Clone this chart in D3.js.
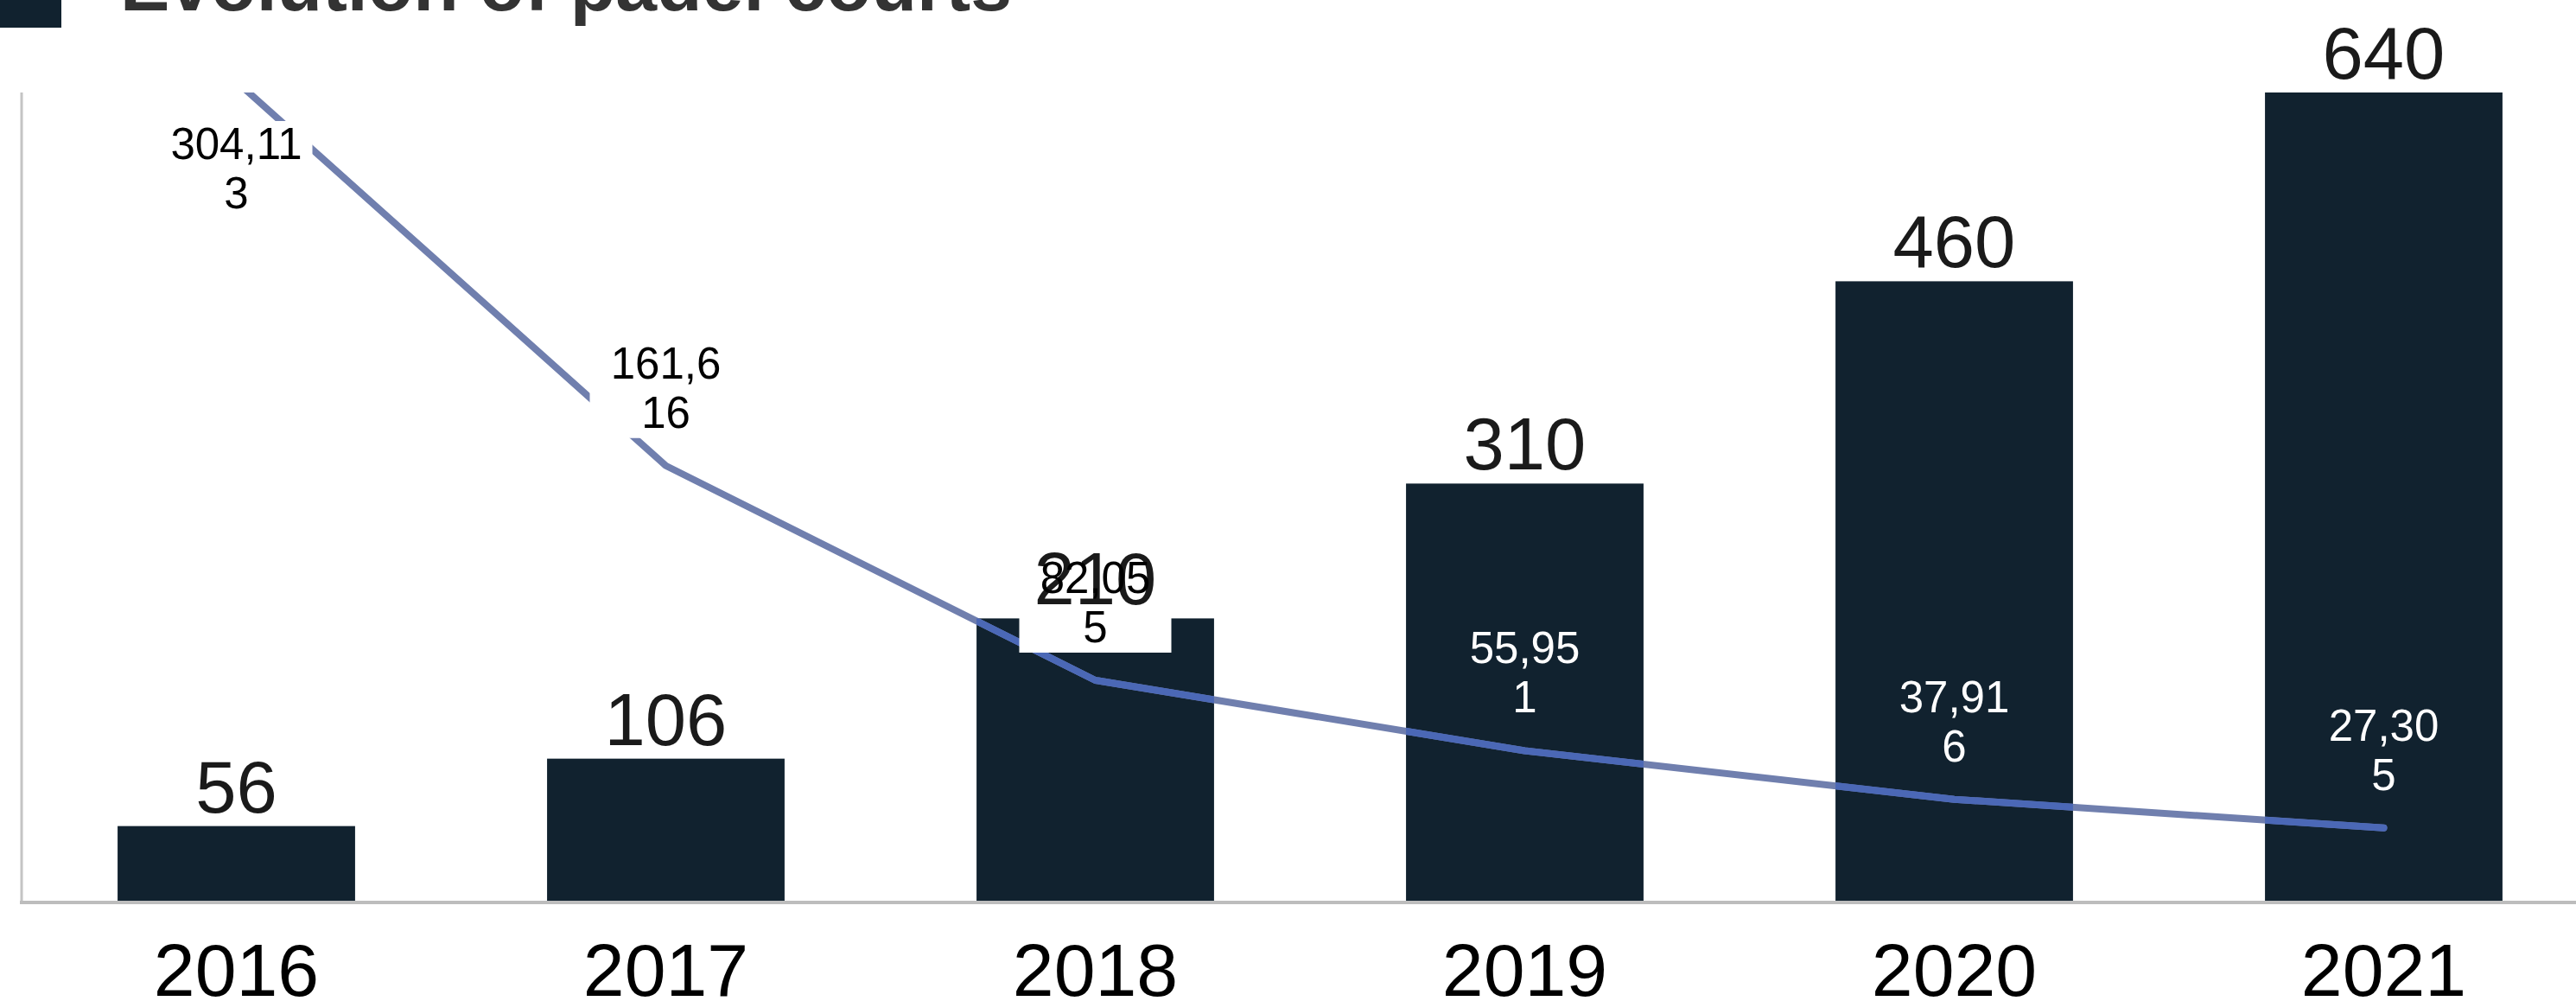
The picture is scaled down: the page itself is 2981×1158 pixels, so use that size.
<!DOCTYPE html>
<html>
<head>
<meta charset="utf-8">
<script src="https://cdn.jsdelivr.net/npm/d3@7"></script>
<style>
  html, body { margin: 0; padding: 0; background: #ffffff; }
  svg { display: block; }
  text { font-family: "Liberation Sans", Arial, Helvetica, sans-serif; }
</style>
</head>
<body>
<svg id="chart" width="2981" height="1158"></svg>
<script>
// Padel courts per year and inhabitants per court
const years = ["2016", "2017", "2018", "2019", "2020", "2021"];
const courts = [56, 106, 210, 310, 460, 640];
const inhabitantsPerCourt = [304.113, 161.616, 82.055, 55.951, 37.916, 27.305];
// where each inhabitants label wraps onto a second line
const labelWrapAt = [6, 5, 5, 5, 5, 5];

const W = 2981, H = 1158;
const plot = { left: 25, right: 3007, top: 107, bottom: 1043 };
const navy = "#11222f";
const font = "'Liberation Sans', Arial, Helvetica, sans-serif";

const svg = d3.select("#chart");

// Title block
svg.append("rect").attr("x", 0).attr("y", 0).attr("width", 71).attr("height", 32).attr("fill", navy);
svg.append("text")
  .attr("x", 139).attr("y", 12)
  .attr("font-size", 86).attr("font-weight", "bold").attr("fill", "#333333")
  .text("Evolution of padel courts");

// Scales: bars on the primary axis (0–600), line on the secondary axis (0–300)
const x = d3.scaleBand().domain(years).range([plot.left, plot.right])
  .paddingInner(0.447).paddingOuter(0.2235);
const y = d3.scaleLinear().domain([0, 600]).range([plot.bottom, plot.top]);
const y2 = d3.scaleLinear().domain([0, 300]).range([plot.bottom, plot.top]);

const defs = svg.append("defs");
defs.append("clipPath").attr("id", "plotClip")
  .append("rect").attr("x", 0).attr("y", plot.top).attr("width", W).attr("height", plot.bottom - plot.top + 2);

// Bars (clipped to the plot area)
const barData = years.map((yr, i) => ({ year: yr, value: courts[i] }));
const barTop = d => Math.max(y(d.value), plot.top);

svg.append("g").attr("clip-path", "url(#plotClip)")
  .selectAll("rect").data(barData).join("rect")
  .attr("x", d => x(d.year))
  .attr("y", d => y(d.value))
  .attr("width", x.bandwidth())
  .attr("height", d => y(0) - y(d.value))
  .attr("fill", navy);

// Same bar shapes used to tint the line where it crosses them
defs.append("clipPath").attr("id", "barClip")
  .selectAll("rect").data(barData).join("rect")
  .attr("x", d => x(d.year))
  .attr("y", barTop)
  .attr("width", x.bandwidth())
  .attr("height", d => y(0) - barTop(d));

// Axis lines
svg.append("line")
  .attr("x1", plot.left).attr("x2", plot.left)
  .attr("y1", plot.top).attr("y2", plot.bottom + 1)
  .attr("stroke", "#c4c4c4").attr("stroke-width", 3);
const xAxis = svg.append("g").attr("transform", `translate(0,${plot.bottom + 1})`)
  .call(d3.axisBottom(x).tickSize(0).tickPadding(108));
xAxis.select(".domain").attr("stroke", "#bdbdbd").attr("stroke-width", 4)
  .attr("d", `M${plot.left - 2},0H${W}`);
xAxis.selectAll(".tick text")
  .attr("font-family", font).attr("font-size", 86).attr("fill", "#000000")
  .attr("dy", 0);

// Line: inhabitants per court
const lineData = years.map((yr, i) => ({ year: yr, value: inhabitantsPerCourt[i] }));
const cx = d => x(d.year) + x.bandwidth() / 2;
const line = d3.line().x(cx).y(d => y2(d.value));

svg.append("path").datum(lineData)
  .attr("clip-path", "url(#plotClip)")
  .attr("d", line).attr("fill", "none")
  .attr("stroke", "#707fae").attr("stroke-width", 8)
  .attr("stroke-linejoin", "round").attr("stroke-linecap", "round");
svg.append("path").datum(lineData)
  .attr("clip-path", "url(#barClip)")
  .attr("d", line).attr("fill", "none")
  .attr("stroke", "#4b68b6").attr("stroke-width", 8)
  .attr("stroke-linejoin", "round").attr("stroke-linecap", "round");

// Line labels (comma decimal), wrapped over two lines
const fmt = d3.formatLocale({ decimal: ",", thousands: ".", grouping: [3], currency: ["", "€"] }).format(".3f");
const lineLabelSize = 51, lineGap = 57, boxedLabels = 3;
const labelData = lineData.map((d, i) => {
  const s = fmt(d.value);
  const c1 = Math.max(y2(d.value) - 119, plot.top + 59); // centre of the first line
  return { ...d, i, l1: s.slice(0, labelWrapAt[i]), l2: s.slice(labelWrapAt[i]), c1 };
});

// White boxes behind the first labels
svg.append("g").selectAll("rect").data(labelData.filter(d => d.i < boxedLabels)).join("rect")
  .attr("x", d => cx(d) - 88)
  .attr("y", d => d.c1 - 26)
  .attr("width", 176)
  .attr("height", lineGap + 56)
  .attr("fill", "#ffffff");

// Bar value labels
svg.append("g").selectAll("text").data(barData).join("text")
  .attr("x", d => x(d.year) + x.bandwidth() / 2)
  .attr("y", d => barTop(d) - 16)
  .attr("text-anchor", "middle")
  .attr("font-size", 85)
  .attr("fill", "#1a1a1a")
  .text(d => d.value);

// Line label texts on top
const lt = svg.append("g").selectAll("text").data(labelData).join("text")
  .attr("text-anchor", "middle")
  .attr("font-size", lineLabelSize)
  .attr("fill", d => d.i < boxedLabels ? "#000000" : "#ffffff");
lt.append("tspan").attr("x", cx).attr("y", d => d.c1 + 18).text(d => d.l1);
lt.append("tspan").attr("x", cx).attr("y", d => d.c1 + 18 + lineGap).text(d => d.l2);
</script>
</body>
</html>
